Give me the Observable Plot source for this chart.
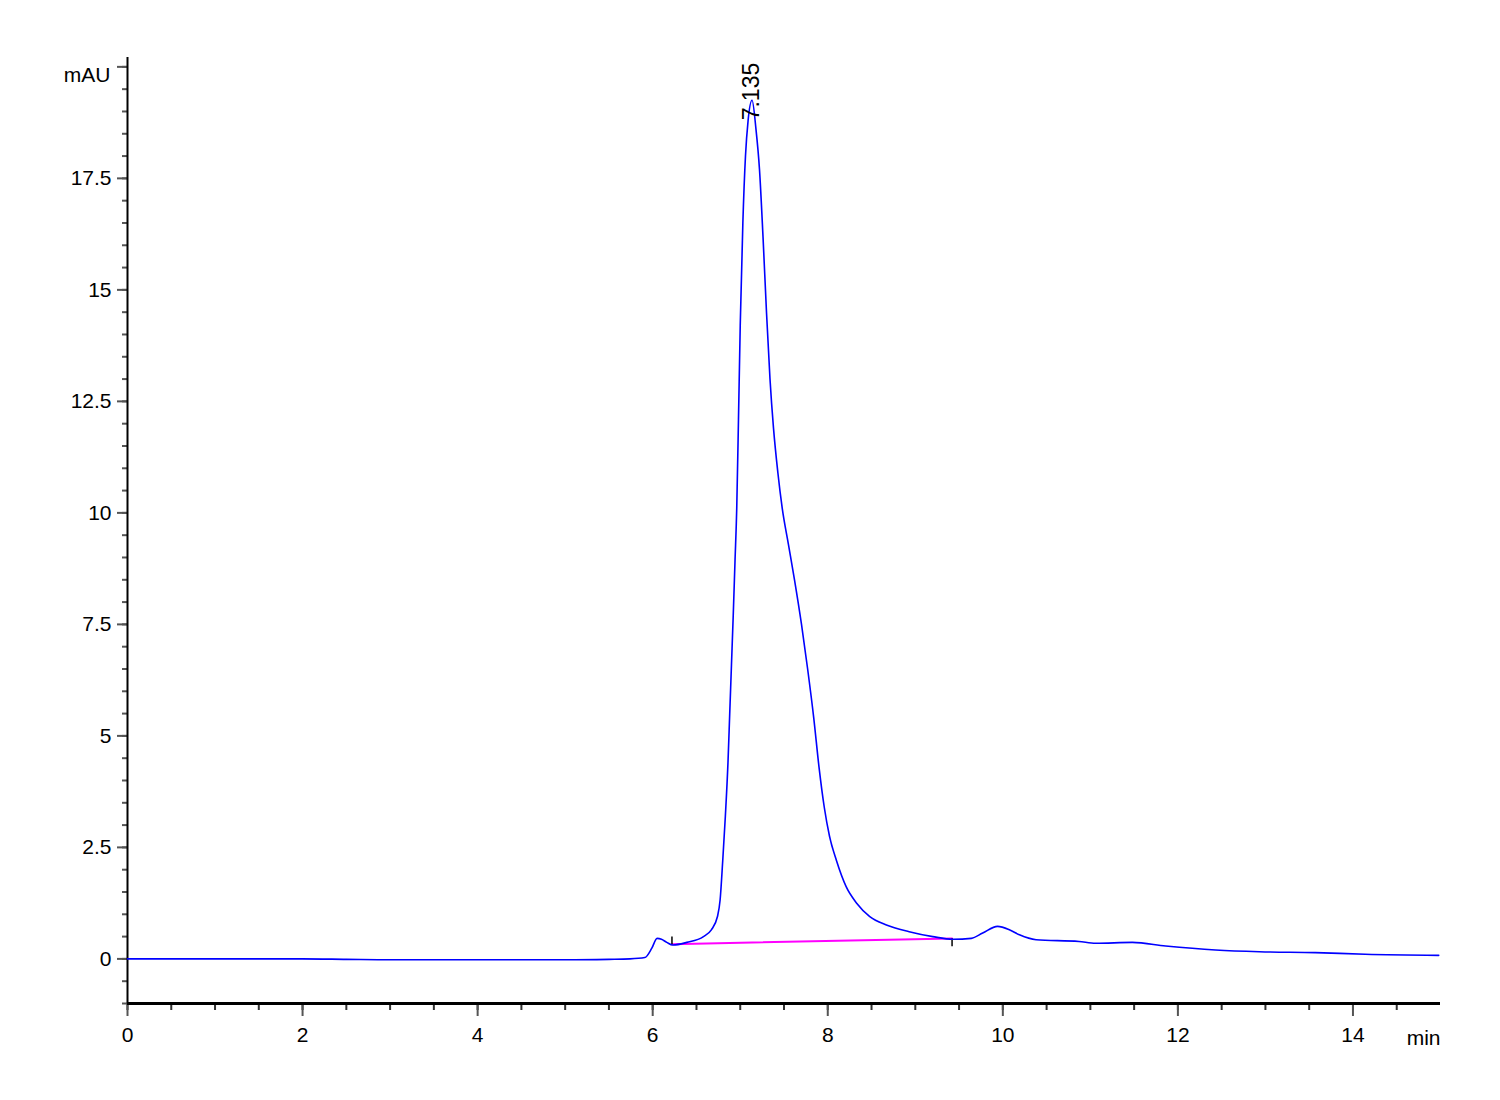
<!DOCTYPE html>
<html>
<head>
<meta charset="utf-8">
<script src="https://cdn.jsdelivr.net/npm/d3@7"></script>
<script src="https://cdn.jsdelivr.net/npm/@observablehq/plot@0.6"></script>
<style>
  html, body { margin: 0; padding: 0; background: #fff; }
  svg text { font-family: "Liberation Sans", Arial, sans-serif; }
</style>
</head>
<body>
<div id="chart"></div>
<script>
// Retention time (min) and absorbance (mAU)
const time = [0, 0.5, 1, 1.5, 2, 2.5, 3, 3.5, 4, 4.5, 5, 5.5, 5.74, 5.91, 5.99, 6.05, 6.10, 6.16, 6.23, 6.39, 6.58, 6.67, 6.74, 6.77, 6.80, 6.83, 6.86, 6.88, 6.90, 6.92, 6.94, 6.96, 6.98, 7.00, 7.03, 7.06, 7.09, 7.135, 7.18, 7.22, 7.26, 7.30, 7.34, 7.38, 7.43, 7.48, 7.55, 7.62, 7.70, 7.77, 7.84, 7.90, 7.96, 8.02, 8.10, 8.21, 8.33, 8.48, 8.67, 8.93, 9.20, 9.43, 9.64, 9.77, 9.94, 10.08, 10.19, 10.38, 10.87, 11.06, 11.48, 11.86, 12.43, 12.93, 13.57, 14.14, 14.98];
const signal = [0, 0, 0, 0, 0, -0.01, -0.02, -0.02, -0.02, -0.02, -0.02, -0.01, 0.00, 0.03, 0.24, 0.46, 0.44, 0.37, 0.31, 0.37, 0.50, 0.65, 0.95, 1.32, 2.2, 3.2, 4.4, 5.5, 6.6, 7.7, 8.9, 10.1, 12.1, 14.2, 16.5, 18.0, 18.8, 19.25, 18.6, 17.7, 16.2, 14.5, 13.0, 11.9, 10.9, 10.1, 9.3, 8.5, 7.5, 6.5, 5.4, 4.3, 3.4, 2.75, 2.2, 1.62, 1.25, 0.95, 0.76, 0.61, 0.50, 0.44, 0.46, 0.58, 0.73, 0.65, 0.54, 0.43, 0.39, 0.35, 0.37, 0.29, 0.20, 0.16, 0.14, 0.105, 0.08];

// Integration baseline of the main peak
const baseTime = [6.22, 9.42];
const baseSignal = [0.33, 0.46];
// Integration start/end markers (min, low mAU, high mAU)
const markTime = [6.22, 9.42];
const markLow = [0.31, 0.27];
const markHigh = [0.49, 0.45];

// Peak annotation
const peakTime = [7.135];
const peakSignal = [19.25];
const peakLabel = ["7.135"];

// Axes ticks
const xMajor = [0, 2, 4, 6, 8, 10, 12, 14];
const xMinor = d3.range(0, 14.51, 0.5);
const yMajor = [0, 2.5, 5, 7.5, 10, 12.5, 15, 17.5, 20];
const yMinor = d3.range(-1, 20.01, 0.5);

const trace = time.map((t, i) => ({t, v: signal[i]}));
const base = baseTime.map((t, i) => ({t, v: baseSignal[i]}));
const marks = markTime.map((t, i) => ({t, lo: markLow[i], hi: markHigh[i]}));
const peaks = peakTime.map((t, i) => ({t, v: peakSignal[i], label: peakLabel[i]}));

const chart = Plot.plot({
  width: 1500,
  height: 1100,
  marginLeft: 127,
  marginRight: 60,
  marginTop: 57,
  marginBottom: 97,
  style: {fontFamily: "'Liberation Sans', Arial, sans-serif", fontSize: "21px", color: "#000", background: "#fff"},
  x: {domain: [0, 15], label: null},
  y: {domain: [-1, 20.21], label: null},
  marks: [
    // minor ticks
    Plot.axisY({ticks: yMinor, tickSize: 5, text: null, stroke: "#555", strokeWidth: 2, label: null}),
    Plot.axisX({ticks: xMinor, tickSize: 7, text: null, stroke: "#333", strokeWidth: 2, label: null}),
    // major ticks with labels
    Plot.axisY({ticks: yMajor, tickSize: 10, stroke: "#555", strokeWidth: 2, tickPadding: 6,
      tickFormat: d => d === 20 ? "" : String(d), fontSize: 21, label: null}),
    Plot.axisX({ticks: xMajor, tickSize: 13, stroke: "#555", strokeWidth: 2, tickPadding: 11,
      fontSize: 21, label: null}),
    // axis lines
    Plot.ruleX([0], {stroke: "#000", strokeWidth: 2}),
    Plot.ruleY([-1], {stroke: "#000", strokeWidth: 3}),
    // axis unit labels
    Plot.text(["mAU"], {x: 0, y: 20, dx: -17, dy: 8, textAnchor: "end", fontSize: 21, fill: "#000"}),
    Plot.text(["min"], {x: 15, y: -1, dy: 35, textAnchor: "end", fontSize: 21, fill: "#000"}),
    // integration baseline
    Plot.line(base, {x: "t", y: "v", stroke: "#ff00ff", strokeWidth: 2}),
    Plot.ruleX(marks, {x: "t", y1: "lo", y2: "hi", stroke: "#000", strokeWidth: 1.5}),
    // chromatogram trace
    Plot.line(trace, {x: "t", y: "v", stroke: "#0000ff", strokeWidth: 1.6, curve: "monotone-x"}),
    // peak label
    Plot.text(peaks, {x: "t", y: "v", text: "label", rotate: -90, textAnchor: "start", lineAnchor: "middle",
      dy: 20, fontSize: 23, fill: "#000"})
  ]
});
document.getElementById("chart").appendChild(chart);
</script>
</body>
</html>
